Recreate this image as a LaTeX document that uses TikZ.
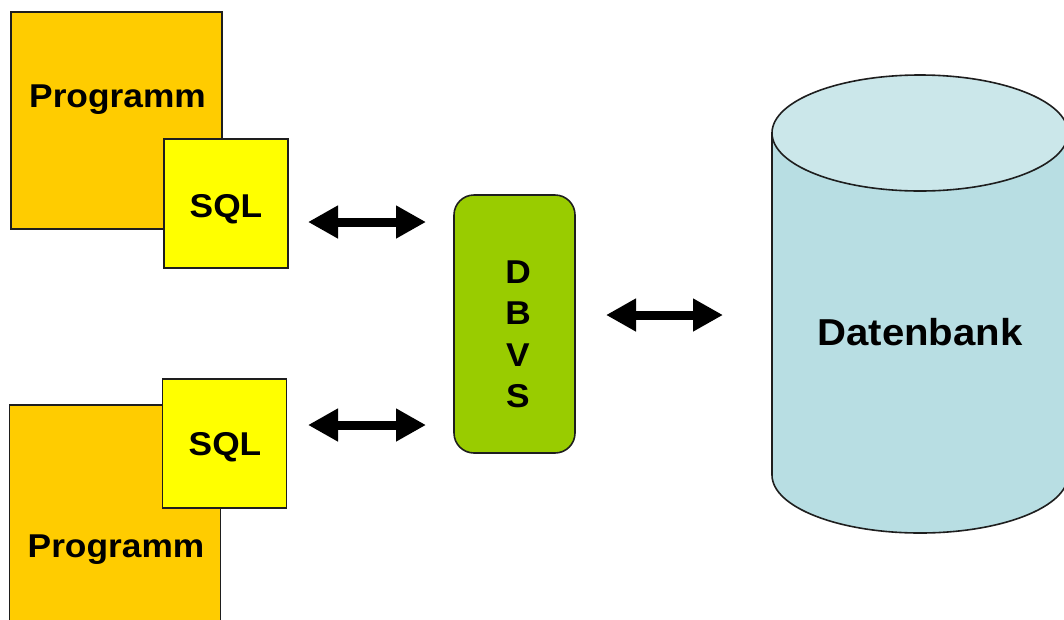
\documentclass[tikz,border=0pt]{standalone}
\usepackage{fontspec}
\setmainfont{Liberation Sans}
\newfontfamily\labelfont[FakeStretch=1.07]{Liberation Sans Bold}
\usetikzlibrary{arrows.meta}

\definecolor{progfill}{RGB}{255,204,0}
\definecolor{sqlfill}{RGB}{255,255,0}
\definecolor{dbvsfill}{RGB}{153,204,0}
\definecolor{cylside}{RGB}{184,222,227}
\definecolor{cyltop}{RGB}{203,231,234}
\definecolor{edge}{RGB}{30,30,30}

\tikzset{
  box/.style={draw=edge, line width=1.6pt, inner sep=0pt, outer sep=0pt},
  progbox/.style={box, fill=progfill, minimum width=211pt, minimum height=217pt},
  sqlbox/.style={box, fill=sqlfill, minimum width=124pt, minimum height=129pt},
  dbvsbox/.style={box, fill=dbvsfill, rounded corners=20pt, minimum width=121pt, minimum height=258pt},
  lbl/.style={inner sep=0pt, anchor=base, font=\labelfont\fontsize{33}{40}\selectfont},
  dblbl/.style={inner sep=0pt, anchor=base, font=\labelfont\fontsize{37.5}{45}\selectfont},
  biarrow/.style={line width=9pt, draw=black,
    {Triangle[length=30pt,width=31pt]}-{Triangle[length=30pt,width=31pt]}}
}

\begin{document}
\begin{tikzpicture}[x=1pt, y=-1pt]
\useasboundingbox (0,0) rectangle (1064,619);
\clip (0,0) rectangle (1064,619);

% application programs with embedded SQL
\node[progbox] (prog1) at (116.5,120.5) {};
\node[sqlbox]  (sql1)  at (226,203.5) {};
\node[lbl] (prog1t) at (117.5,107) {Programm};
\node[lbl] (sql1t)  at (226,217) {SQL};

\node[progbox] (prog2) at (115,513.5) {};
\node[sqlbox]  (sql2)  at (224.5,443.5) {};
\node[lbl] (prog2t) at (116,557) {Programm};
\node[lbl] (sql2t)  at (225,455) {SQL};

% database management system
\node[dbvsbox] (dbvs) at (514.5,324) {};
\node[lbl] (dbvsD) at (518,283)   {D};
\node[lbl] (dbvsB) at (518,324.5) {B};
\node[lbl] (dbvsV) at (518,366)   {V};
\node[lbl] (dbvsS) at (518,407.5) {S};

% database cylinder
\fill[cylside, draw=edge, line width=1.6pt]
  (772,133) -- (772,475) arc[start angle=180, end angle=360, x radius=148, y radius=-58]
  -- (1068,133) -- cycle;
\draw[edge, line width=1.6pt, fill=cyltop] (920,133) ellipse[x radius=148, y radius=58];
\node[dblbl] (db) at (920,345) {Datenbank};

% connectors
\coordinate (a1l) at (308,222);
\coordinate (a1r) at (426,222);
\coordinate (a2l) at (308,425);
\coordinate (a2r) at (426,425);
\coordinate (a3l) at (606,315);
\coordinate (a3r) at (723,315);
\draw[biarrow] (a1l) -- (a1r);
\draw[biarrow] (a2l) -- (a2r);
\draw[biarrow] (a3l) -- (a3r);
\end{tikzpicture}
\end{document}
